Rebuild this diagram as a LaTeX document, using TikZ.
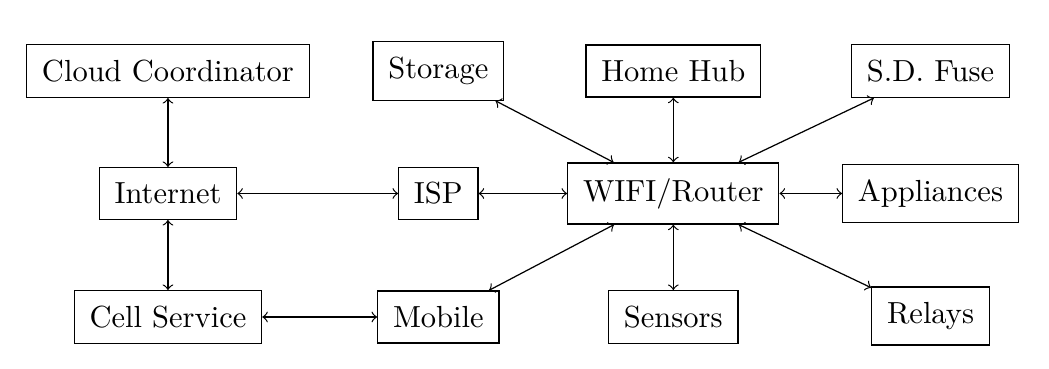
\documentclass[tikz,border=0pt]{standalone}

\begin{document}
\begin{tikzpicture}
[box/.style={draw, rectangle, inner sep=5pt}]
\useasboundingbox (0,0) rectangle (12.085,-4.251);

\node (cloud) at (1.935,-0.818) [box] {Cloud Coordinator};
\node (inet) at (1.935,-2.229) [box] {Internet};
\node (cell) at (1.935,-3.652) [box] {Cell Service};

\node (storage) at (5.05,-0.818) [box] {Storage};
\node (isp) at (5.05,-2.229) [box] {ISP};
\node (mobile) at (5.05,-3.652) [box] {Mobile};

\node (hub) at (7.757,-0.818) [box] {Home Hub};
\node (wifi) at (7.757,-2.229) [box] {WIFI/Router};
\node (sensors) at (7.757,-3.652) [box] {Sensors};

\node (fuse) at (10.72,-0.818) [box] {S.D. Fuse};
\node (appl) at (10.72,-2.229) [box] {Appliances};
\node (relays) at (10.72,-3.64) [box] {Relays};

\draw[<->] (cloud) to (inet);
\draw[<->] (inet) to (cell);
\draw[<->] (inet) to (isp);
\draw[<->] (cell) to (mobile);
\draw[<->] (isp) to (wifi);

\draw[<->] (wifi) to (storage);
\draw[<->] (wifi) to (hub);
\draw[<->] (wifi) to (fuse);
\draw[<->] (wifi) to (appl);
\draw[<->] (wifi) to (relays);
\draw[<->] (wifi) to (sensors);
\draw[<->] (wifi) to (mobile);
\end{tikzpicture}
\end{document}
